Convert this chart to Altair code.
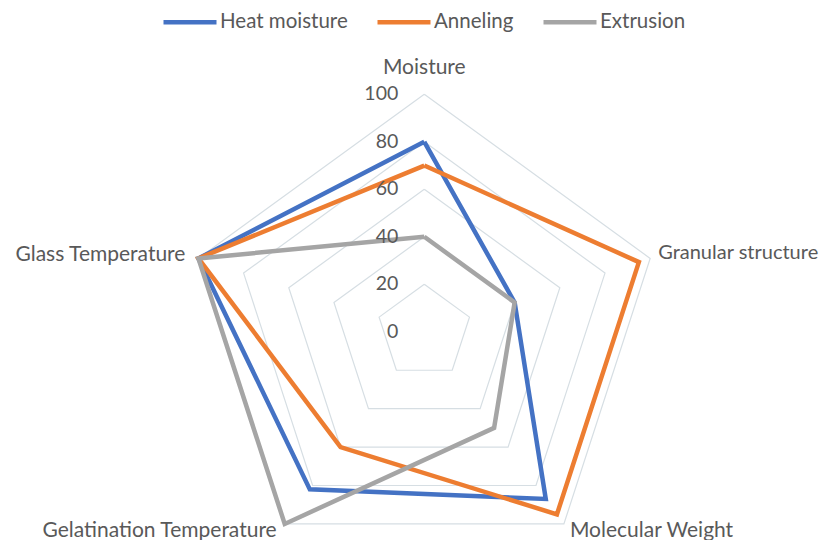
import math
import altair as alt
import pandas as pd

# ---- data ----
categories = ["Moisture", "Granular structure", "Molecular Weight",
              "Gelatination Temperature", "Glass Temperature"]
series = ["Heat moisture", "Anneling", "Extrusion"]
heat_moisture = [80, 40, 87, 82, 100]
anneling = [70, 95, 95, 60, 100]
extrusion = [40, 40, 50, 100, 100]
ticks = [0, 20, 40, 60, 80, 100]
colors = ["#4472C4", "#ED7D31", "#A5A5A5"]

FONT = "Lato"
TXT = "#595959"
N = len(categories)

# ---- tables built from the lists ----
rows = []
for s, vals in zip(series, [heat_moisture, anneling, extrusion]):
    for i in range(N + 1):
        rows.append({"series": s, "idx": i, "value": vals[i % N]})
series_df = pd.DataFrame(rows)

grid_rows = []
for t in ticks[1:]:
    for i in range(N + 1):
        grid_rows.append({"ring": t, "idx": i, "value": t})
grid_df = pd.DataFrame(grid_rows)

tick_df = pd.DataFrame({"value": ticks, "idx": [0] * len(ticks),
                        "label": [str(t) for t in ticks]})
cat_df = pd.DataFrame({"cat": categories, "idx": list(range(N)),
                       "value": [100] * N})

# ---- polar -> cartesian via the library ----
def polar(ch):
    return ch.transform_calculate(
        ang=f"PI/2 - datum.idx*2*PI/{N}"
    ).transform_calculate(
        px="datum.value*cos(datum.ang)",
        py="datum.value*sin(datum.ang)",
    )

W, H = 815, 532
cx, cy, k = 416.3, 323.8, 2.375
xdom = [-cx / k, (W - cx) / k]
ydom = [-(H - cy) / k, cy / k]
X = alt.X("px:Q", scale=alt.Scale(domain=xdom, nice=False, zero=False), axis=None)
Y = alt.Y("py:Q", scale=alt.Scale(domain=ydom, nice=False, zero=False), axis=None)

grid = polar(alt.Chart(grid_df)).mark_line(
    color="#d6dee3", strokeWidth=1.2
).encode(x=X, y=Y, detail="ring:N", order="idx:Q")

lines = polar(alt.Chart(series_df)).mark_line(
    strokeWidth=4.5, strokeJoin="miter"
).encode(
    x=X, y=Y, order="idx:Q",
    color=alt.Color(
        "series:N",
        scale=alt.Scale(domain=series, range=colors),
        legend=alt.Legend(
            orient="none", legendX=153, legendY=-15, direction="horizontal",
            title=None, symbolType="stroke", symbolSize=53 * 53,
            symbolStrokeWidth=4.5, labelFontSize=20.5, labelFont=FONT,
            labelColor=TXT, columnPadding=20, labelOffset=1, padding=0,
        ),
        sort=series,
    ),
)

tick_labels = polar(alt.Chart(tick_df)).mark_text(
    align="right", baseline="middle", dx=-26, fontSize=19.5, font=FONT, color=TXT
).encode(x=X, y=Y, text="label:N")

offsets = {
    0: dict(align="center", dx=0, dy=-26, fontSize=21),
    1: dict(align="left", dx=8, dy=-5, fontSize=20),
    2: dict(align="left", dx=6, dy=7, fontSize=21),
    3: dict(align="right", dx=-8, dy=7, fontSize=21),
    4: dict(align="right", dx=-13, dy=-3, fontSize=21),
}
cat_layers = []
for i, o in offsets.items():
    cat_layers.append(
        polar(alt.Chart(cat_df).transform_filter(f"datum.idx == {i}")).mark_text(
            baseline="middle", font=FONT, color=TXT, **o
        ).encode(x=X, y=Y, text="cat:N")
    )

chart = alt.layer(grid, lines, tick_labels, *cat_layers).properties(
    width=W, height=H, padding=0, autosize=alt.AutoSizeParams(type="none")
).configure_view(stroke=None)

chart.save("out.html", embed_options={"renderer": "svg", "actions": False})
